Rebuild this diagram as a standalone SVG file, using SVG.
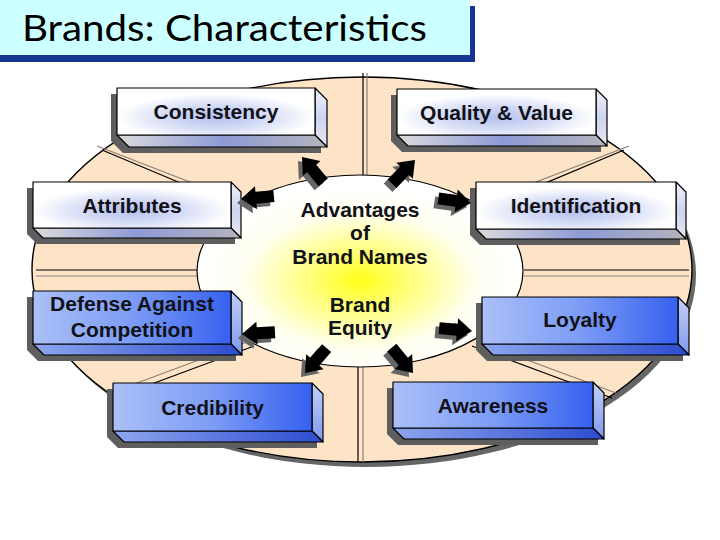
<svg xmlns="http://www.w3.org/2000/svg" xmlns:xlink="http://www.w3.org/1999/xlink" width="720" height="540" viewBox="0 0 720 540">
<defs>
  <radialGradient id="gCenter" cx="0.5" cy="0.55" r="0.5">
    <stop offset="0" stop-color="#ffff1a"/>
    <stop offset="0.35" stop-color="#ffff88"/>
    <stop offset="0.7" stop-color="#fffff0"/>
    <stop offset="1" stop-color="#ffffff"/>
  </radialGradient>
  <radialGradient id="gWhiteFront" cx="0.5" cy="0.62" r="0.5">
    <stop offset="0" stop-color="#b4c0ee"/>
    <stop offset="0.55" stop-color="#d8def6"/>
    <stop offset="1" stop-color="#ffffff"/>
  </radialGradient>
  <linearGradient id="gWhiteBottom" x1="0" y1="0" x2="1" y2="0">
    <stop offset="0" stop-color="#dcdcdc"/>
    <stop offset="0.5" stop-color="#8e9ad6"/>
    <stop offset="1" stop-color="#b4b4bc"/>
  </linearGradient>
  <linearGradient id="gWhiteRight" x1="0" y1="0" x2="0" y2="1">
    <stop offset="0" stop-color="#f2f4fb"/>
    <stop offset="0.5" stop-color="#cdd4f0"/>
    <stop offset="1" stop-color="#e6e8f2"/>
  </linearGradient>
  <linearGradient id="gBlueFront" x1="0" y1="0" x2="1" y2="0">
    <stop offset="0" stop-color="#abc0f8"/>
    <stop offset="0.5" stop-color="#7c9cf5"/>
    <stop offset="1" stop-color="#3660ef"/>
  </linearGradient>
  <linearGradient id="gBlueBottom" x1="0" y1="0" x2="1" y2="0">
    <stop offset="0" stop-color="#8ea6ee"/>
    <stop offset="1" stop-color="#2c4cd0"/>
  </linearGradient>
  <linearGradient id="gBlueRight" x1="0" y1="0" x2="0" y2="1">
    <stop offset="0" stop-color="#c4d0f8"/>
    <stop offset="1" stop-color="#7f98ee"/>
  </linearGradient>
  <path id="arr" d="M0,0 L-15,-11.5 L-15,-6 L-33,-6 L-33,6 L-15,6 L-15,11.5 Z"/>
</defs>
<style>
  .lbl { font-family: "Liberation Sans", Arial, sans-serif; font-weight: bold; font-size: 21px; fill: #111118; text-anchor: middle; }
  .edge { stroke: #000; stroke-width: 1.2; stroke-linejoin: round; }
  .shd { fill: #5e5e5e; }
  .wf { fill: url(#gWhiteFront); }
  .wb { fill: url(#gWhiteBottom); }
  .wr { fill: url(#gWhiteRight); }
  .bf { fill: url(#gBlueFront); }
  .bb { fill: url(#gBlueBottom); }
  .br { fill: url(#gBlueRight); }
  .ln { stroke: #000; stroke-width: 1.2; fill: none; }
  .ln2 { stroke: #8a8078; stroke-width: 1.2; fill: none; }
  .arrow { fill: #000; }
  .arrowShd { fill: #666; }
</style>

<!-- title -->
<g id="title">
  <rect x="0" y="6" width="475" height="56" fill="#173592"/>
  <rect x="0" y="0" width="470" height="55" fill="#ccffff"/>
  <text x="22" y="41" font-family="Lato, 'Noto Sans', sans-serif" font-size="37" fill="#000" textLength="405" lengthAdjust="spacingAndGlyphs">Brands: Characteristics</text>
</g>

<!-- background ring -->
<g id="ring">
  <ellipse cx="366" cy="274.5" rx="330" ry="192.5" fill="#666"/>
  <ellipse cx="362" cy="269.5" rx="330" ry="192.5" fill="#fde4c6" stroke="#000" stroke-width="1.4"/>
  <!-- dividers -->
  <line class="ln" x1="363" y1="73" x2="363" y2="176"/>
  <line class="ln2" x1="367" y1="73" x2="367" y2="176"/>
  <line class="ln" x1="358" y1="366" x2="358" y2="462"/>
  <line class="ln2" x1="363" y1="366" x2="363" y2="462"/>
  <line class="ln" x1="36" y1="270" x2="199" y2="270"/>
  <line class="ln2" x1="36" y1="276" x2="199" y2="276"/>
  <line class="ln" x1="524" y1="270" x2="689" y2="270"/>
  <line class="ln2" x1="524" y1="276" x2="689" y2="276"/>
  <line class="ln" x1="102" y1="150" x2="240" y2="208"/>
  <line class="ln2" x1="97" y1="146" x2="244" y2="203"/>
  <line class="ln" x1="624" y1="150" x2="486" y2="208"/>
  <line class="ln2" x1="629" y1="146" x2="482" y2="203"/>
  <line class="ln" x1="114" y1="398" x2="254" y2="346"/>
  <line class="ln2" x1="110" y1="393" x2="250" y2="341"/>
  <line class="ln" x1="612" y1="398" x2="472" y2="346"/>
  <line class="ln2" x1="616" y1="393" x2="476" y2="341"/>
</g>

<!-- centre -->
<g id="center">
  <ellipse cx="360" cy="271" rx="163" ry="96" fill="url(#gCenter)" stroke="#000" stroke-width="1.2"/>
  <text class="lbl" x="360" y="217">Advantages</text>
  <text class="lbl" x="360" y="240">of</text>
  <text class="lbl" x="360" y="264">Brand Names</text>
  <text class="lbl" x="360" y="312">Brand</text>
  <text class="lbl" x="360" y="335">Equity</text>
</g>

<!-- nodes -->
<g id="consistency" transform="translate(117,88)">
  <polygon class="shd" points="-6,6 192,6 204,18 204,65 6,65 -6,53"/>
  <polygon class="wr edge" points="198,0 210,12 210,59 198,47"/>
  <polygon class="wb edge" points="0,47 198,47 210,59 12,59"/>
  <rect class="wf edge" x="0" y="0" width="198" height="47"/>
  <text class="lbl" x="99" y="31">Consistency</text>
</g>
<g id="quality" transform="translate(397,89)">
  <polygon class="shd" points="-6,6 193,6 204,17 204,63 5,63 -6,52"/>
  <polygon class="wr edge" points="199,0 210,11 210,57 199,46"/>
  <polygon class="wb edge" points="0,46 199,46 210,57 11,57"/>
  <rect class="wf edge" x="0" y="0" width="199" height="46"/>
  <text class="lbl" x="99.5" y="31">Quality &amp; Value</text>
</g>
<g id="attributes" transform="translate(33,182)">
  <polygon class="shd" points="-6,6 192,6 202,16 202,62 4,62 -6,52"/>
  <polygon class="wr edge" points="198,0 208,10 208,56 198,46"/>
  <polygon class="wb edge" points="0,46 198,46 208,56 10,56"/>
  <rect class="wf edge" x="0" y="0" width="198" height="46"/>
  <text class="lbl" x="99" y="31">Attributes</text>
</g>
<g id="identification" transform="translate(476,182)">
  <polygon class="shd" points="-6,6 194,6 204,16 204,63 4,63 -6,53"/>
  <polygon class="wr edge" points="200,0 210,10 210,57 200,47"/>
  <polygon class="wb edge" points="0,47 200,47 210,57 10,57"/>
  <rect class="wf edge" x="0" y="0" width="200" height="47"/>
  <text class="lbl" x="100" y="31">Identification</text>
</g>
<g id="defense" transform="translate(33,291)">
  <polygon class="shd" points="-6,6 192,6 203,17 203,70 5,70 -6,59"/>
  <polygon class="br edge" points="198,0 209,11 209,64 198,53"/>
  <polygon class="bb edge" points="0,53 198,53 209,64 11,64"/>
  <rect class="bf edge" x="0" y="0" width="198" height="53"/>
  <text class="lbl" x="99" y="20">Defense Against</text>
  <text class="lbl" x="99" y="46">Competition</text>
</g>
<g id="loyalty" transform="translate(482,297)">
  <polygon class="shd" points="-6,6 190,6 201,17 201,64 5,64 -6,53"/>
  <polygon class="br edge" points="196,0 207,11 207,58 196,47"/>
  <polygon class="bb edge" points="0,47 196,47 207,58 11,58"/>
  <rect class="bf edge" x="0" y="0" width="196" height="47"/>
  <text class="lbl" x="98" y="30">Loyalty</text>
</g>
<g id="credibility" transform="translate(113,383)">
  <polygon class="shd" points="-6,6 193,6 204,17 204,65 5,65 -6,54"/>
  <polygon class="br edge" points="199,0 210,11 210,59 199,48"/>
  <polygon class="bb edge" points="0,48 199,48 210,59 11,59"/>
  <rect class="bf edge" x="0" y="0" width="199" height="48"/>
  <text class="lbl" x="99.5" y="32">Credibility</text>
</g>
<g id="awareness" transform="translate(393,382)">
  <polygon class="shd" points="-6,6 194,6 205,17 205,63 5,63 -6,52"/>
  <polygon class="br edge" points="200,0 211,11 211,57 200,46"/>
  <polygon class="bb edge" points="0,46 200,46 211,57 11,57"/>
  <rect class="bf edge" x="0" y="0" width="200" height="46"/>
  <text class="lbl" x="100" y="31">Awareness</text>
</g>

<!-- connectors -->
<g id="connectors">
  <use href="#arr" class="arrowShd" transform="translate(298,161) rotate(-130)"/>
  <use href="#arr" class="arrow" transform="translate(302,157) rotate(-130)"/>
  <use href="#arr" class="arrowShd" transform="translate(411,164) rotate(-46)"/>
  <use href="#arr" class="arrow" transform="translate(415,160) rotate(-46)"/>
  <use href="#arr" class="arrowShd" transform="translate(237,203) rotate(175)"/>
  <use href="#arr" class="arrow" transform="translate(241,199) rotate(175)"/>
  <use href="#arr" class="arrowShd" transform="translate(467,207) rotate(8)"/>
  <use href="#arr" class="arrow" transform="translate(471,203) rotate(8)"/>
  <use href="#arr" class="arrowShd" transform="translate(238,338) rotate(177)"/>
  <use href="#arr" class="arrow" transform="translate(242,334) rotate(177)"/>
  <use href="#arr" class="arrowShd" transform="translate(468,335) rotate(5)"/>
  <use href="#arr" class="arrow" transform="translate(472,331) rotate(5)"/>
  <use href="#arr" class="arrowShd" transform="translate(301,377) rotate(131)"/>
  <use href="#arr" class="arrow" transform="translate(305,373) rotate(131)"/>
  <use href="#arr" class="arrowShd" transform="translate(409,377) rotate(50)"/>
  <use href="#arr" class="arrow" transform="translate(413,373) rotate(50)"/>
</g>
</svg>
